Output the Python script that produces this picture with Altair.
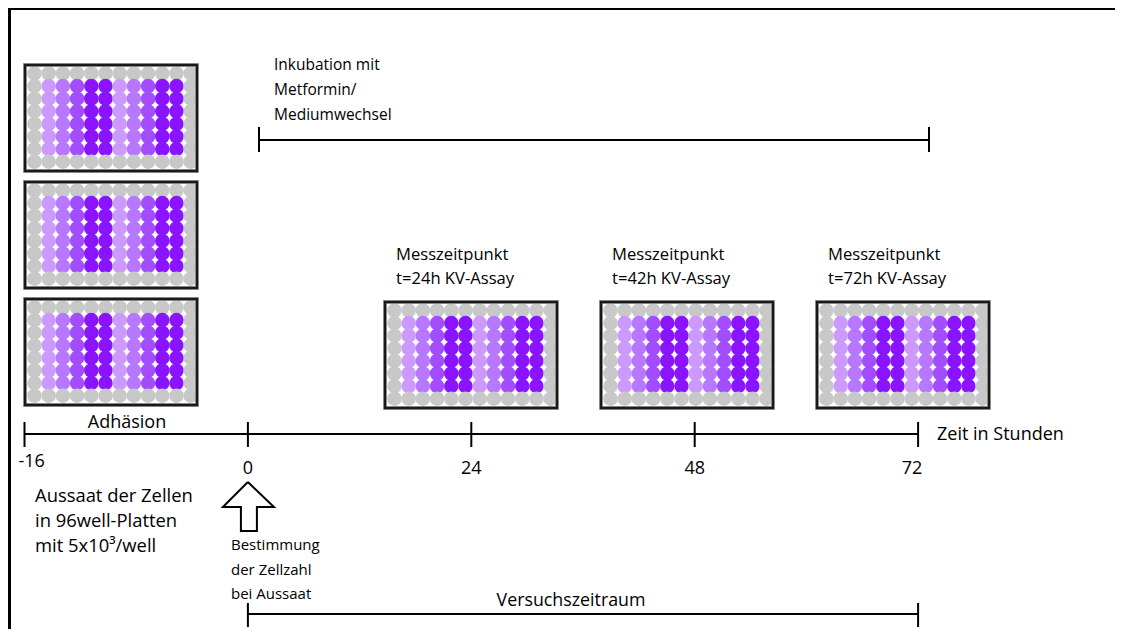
import altair as alt
import pandas as pd

# ---------------- data ----------------
hours = [-16, 0, 24, 48, 72]
hour_labels = ["-16", "0", "24", "48", "72"]
well_levels = [0, 1, 2, 3, 4, 4, 1, 2, 3, 4, 4, 0]   # per plate column (inner rows)
level_colors = ["#c8c8c8", "#cc99ff", "#b877ff", "#a24dff", "#8a14ff"]
measure_labels = ["t=24h KV-Assay", "t=42h KV-Assay", "t=72h KV-Assay"]
incub_lines = ["Inkubation mit", "Metformin/", "Mediumwechsel"]
seed_lines = ["Aussaat der Zellen", "in 96well-Platten", "mit 5x10\u00b3/well"]
count_lines = ["Bestimmung", "der Zellzahl", "bei Aussaat"]

# ---------------- layout ----------------
X0, STEP = 24.5, 223.4
tick_x = [X0 + STEP * i for i in range(len(hours))]
AXIS_Y = 434
PW, PH = 172, 106
left_plates = [(25, 65), (25, 182), (25, 299)]
time_plates = [(385, 302), (601, 302), (817, 302)]
plates = left_plates + time_plates
FONT = "Open Sans"
VIEW_W = 1107
VIEW_H = 621

# plates
plate_df = pd.DataFrame([{"x": x, "x2": x + PW, "y": y, "y2": y + PH} for x, y in plates])

# wells
wells = []
for pi, (px, py) in enumerate(plates):
    for r in range(8):
        for c in range(12):
            lvl = 0 if r in (0, 7) else well_levels[c]
            wells.append({"x": px + 9.5 + 14.2 * c, "y": py + 8.5 + 12.6 * r, "lvl": lvl})
well_df = pd.DataFrame(wells)

# line segments
segs = []
def seg(x, y, x2, y2):
    segs.append({"x": x, "y": y, "x2": x2, "y2": y2})

seg(tick_x[0], AXIS_Y, tick_x[-1], AXIS_Y)
for tx in tick_x:
    seg(tx, AXIS_Y - 12, tx, AXIS_Y + 13)
# incubation bar
seg(259, 140, 929, 140)
seg(259, 127, 259, 152)
seg(929, 127, 929, 152)
# Versuchszeitraum bar
seg(tick_x[1], 614, tick_x[-1], 614)
seg(tick_x[1], 603, tick_x[1], 627)
seg(tick_x[-1], 603, tick_x[-1], 627)
seg_df = pd.DataFrame(segs)

# outer frame (left and top edges), as thin filled bands
frame_df = pd.DataFrame([
    {"x": 8, "x2": 11, "y": 8, "y2": 8 + VIEW_H},
    {"x": 8, "x2": 8 + VIEW_W, "y": 8, "y2": 10},
])

# hollow arrow
ax = tick_x[1]
arrow_pts = [(ax, 482), (ax + 26, 507), (ax + 9, 507), (ax + 9, 531), (ax - 7, 531),
             (ax - 7, 507), (ax - 25, 507), (ax, 482)]
arrow_df = pd.DataFrame([{"x": x, "y": y, "o": i} for i, (x, y) in enumerate(arrow_pts)])

# texts
texts = []
def txt(t, x, y, fs, align="left"):
    texts.append({"t": t, "x": x, "y": y, "fs": fs, "a": align})

for i, line in enumerate(incub_lines):
    txt(line, 274, 65 + 25 * i, 15.5)
for (px, py), lab in zip(time_plates, measure_labels):
    txt("Messzeitpunkt", px + 11, 255, 16.6)
    txt(lab, px + 11, 279, 16.6)
txt("Adhäsion", 127, 423, 18, "center")
txt("Zeit in Stunden", 937, 435, 18)
for i, (tx, lab) in enumerate(zip(tick_x, hour_labels)):
    if i == 0:
        txt(lab, tx - 6, 462, 18)
    else:
        txt(lab, tx - (6 if i == len(tick_x) - 1 else 0), 469, 18, "center")
for i, line in enumerate(seed_lines):
    txt(line, 35, 496 + 25 * i, 18.4)
for i, line in enumerate(count_lines):
    txt(line, 231, 545 + 24.5 * i, 15)
txt("Versuchszeitraum", 571, 601, 17.8, "center")
text_df = pd.DataFrame(texts)

# ---------------- chart ----------------
xs = alt.Scale(domain=[8, 8 + VIEW_W])
ys = alt.Scale(domain=[8, 8 + VIEW_H], reverse=True)
X = lambda f="x": alt.X(f"{f}:Q", scale=xs, axis=None)
Y = lambda f="y": alt.Y(f"{f}:Q", scale=ys, axis=None)

frame = alt.Chart(frame_df).mark_rect(color="black").encode(
    x=X(), y=Y(), x2="x2:Q", y2="y2:Q")

plate_bg = alt.Chart(plate_df).mark_rect(fill="white").encode(
    x=X(), y=Y(), x2="x2:Q", y2="y2:Q")

well_layer = alt.Chart(well_df).mark_circle(size=212, opacity=1).encode(
    x=X(), y=Y(),
    color=alt.Color("lvl:O", scale=alt.Scale(domain=[0, 1, 2, 3, 4], range=level_colors), legend=None))

plate_shadow = alt.Chart(plate_df).mark_rect(fill=None, fillOpacity=0, stroke="#a8a8a8", strokeWidth=4).encode(
    x=X(), y=Y(), x2="x2:Q", y2="y2:Q")
plate_border = alt.Chart(plate_df).mark_rect(fill=None, fillOpacity=0, stroke="#1a1a1a", strokeWidth=2.4).encode(
    x=X(), y=Y(), x2="x2:Q", y2="y2:Q")

seg_layer = alt.Chart(seg_df).mark_rule(color="black", strokeWidth=2).encode(
    x=X(), y=Y(), x2="x2:Q", y2="y2:Q")

arrow = alt.Chart(arrow_df).mark_line(color="black", strokeWidth=2, strokeJoin="miter").encode(
    x=X(), y=Y(), order="o:Q")

text_left = alt.Chart(text_df[text_df.a == "left"]).mark_text(
    align="left", baseline="middle", font=FONT, color="black").encode(
    x=X(), y=Y(), text="t:N", size=alt.Size("fs:Q", scale=None))
text_center = alt.Chart(text_df[text_df.a == "center"]).mark_text(
    align="center", baseline="middle", font=FONT, color="black").encode(
    x=X(), y=Y(), text="t:N", size=alt.Size("fs:Q", scale=None))

chart = alt.layer(frame, plate_bg, well_layer, plate_shadow, plate_border, seg_layer, arrow,
                  text_left, text_center).properties(
    width=VIEW_W, height=VIEW_H, padding=0, autosize=alt.AutoSizeParams(type="none"),
    background="white").configure_view(strokeWidth=0)

chart.save("out.html", embed_options={"renderer": "svg", "actions": False})
